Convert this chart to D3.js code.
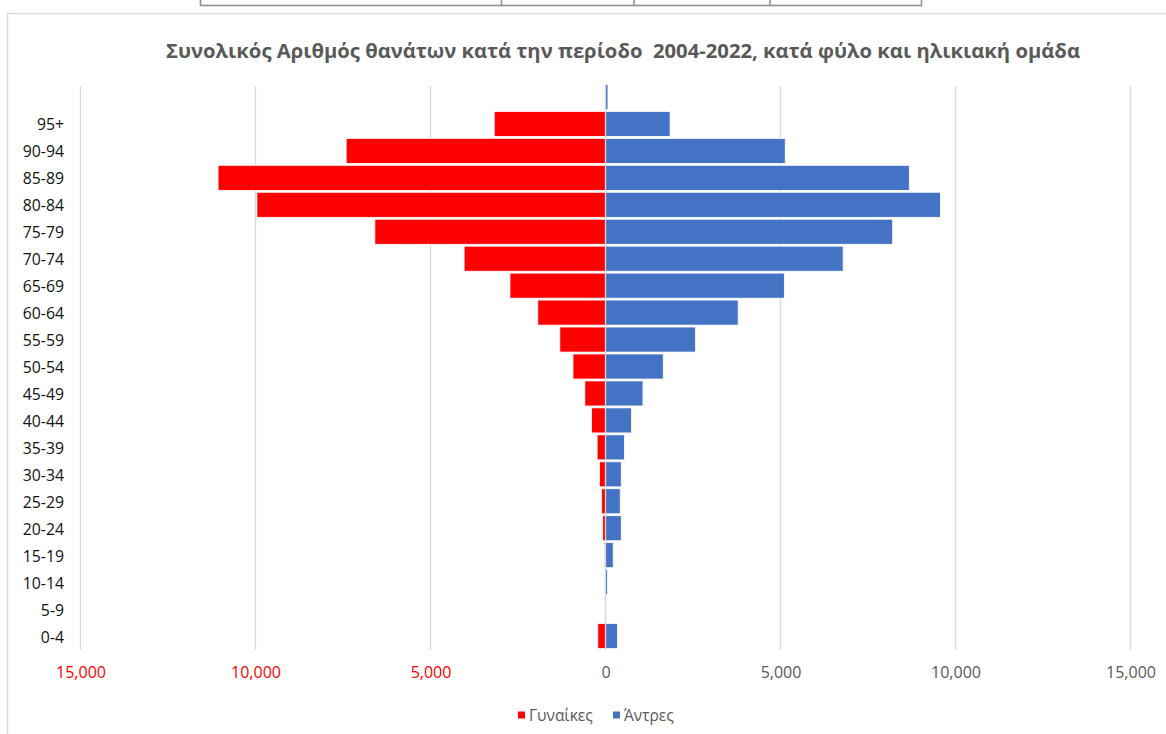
<!DOCTYPE html>
<html><head><meta charset="utf-8">
<script src="https://cdn.jsdelivr.net/npm/d3@7/dist/d3.min.js"></script>
<style>html,body{margin:0;padding:0;background:#fff;}svg{display:block;}</style>
</head><body>
<svg id="c" width="1166" height="734"></svg>
<script>
// Age groups, bottom to top (last one is unlabeled in the source)
const ageGroups = ["0-4","5-9","10-14","15-19","20-24","25-29","30-34","35-39","40-44","45-49","50-54","55-59","60-64","65-69","70-74","75-79","80-84","85-89","90-94","95+",""];
const women = [220,0,15,30,80,110,170,240,400,590,930,1305,1935,2730,4040,6590,9960,11070,7410,3180,0];
const men   = [340,0,60,220,450,420,450,540,740,1070,1650,2570,3790,5110,6790,8205,9570,8680,5135,1845,70];
const xTicks = [-15000,-10000,-5000,0,5000,10000,15000];
const title = "Συνολικός Αριθμός θανάτων κατά την περίοδο  2004-2022, κατά φύλο και ηλικιακή ομάδα";
const seriesNames = ["Γυναίκες","Άντρες"];
const seriesColors = ["#ff0000","#4472c4"];

const svg = d3.select("#c");
const font = "'Open Sans', 'DejaVu Sans', sans-serif";

// decorative table remnant at the top
const tbl = svg.append("g").attr("stroke","#8f8f8f").attr("stroke-width",1.6).attr("fill","none");
tbl.append("rect").attr("x",200.5).attr("y",-3).attr("width",721).attr("height",8.5);
[501.5,634,770].forEach(x=>tbl.append("line").attr("x1",x).attr("x2",x).attr("y1",-3).attr("y2",5.5));

// chart frame
svg.append("path").attr("d","M7.5,734 V13.5 H1166").attr("fill","none").attr("stroke","#d9d9d9").attr("stroke-width",1.5);

const x = d3.scaleLinear().domain([-15000,15000]).range([80.5,1130.5]);
const idx = d3.range(ageGroups.length);
const y = d3.scaleBand().domain(idx).range([649.5,83.5]).paddingInner(0.07).paddingOuter(0.035);

// gridlines
svg.append("g").selectAll("line").data(xTicks).join("line")
  .attr("x1",d=>x(d)).attr("x2",d=>x(d)).attr("y1",86).attr("y2",650)
  .attr("stroke","#d9d9d9").attr("stroke-width",1.3);

// bars
svg.append("g").selectAll("rect").data(idx).join("rect")
  .attr("x",i=>x(-women[i])).attr("width",i=>x(0)-x(-women[i]))
  .attr("y",i=>y(i)).attr("height",y.bandwidth())
  .attr("fill",seriesColors[0]).attr("stroke","#fff").attr("stroke-width",0.8);
svg.append("g").selectAll("rect").data(idx).join("rect")
  .attr("x",x(0)).attr("width",i=>x(men[i])-x(0))
  .attr("y",i=>y(i)).attr("height",y.bandwidth())
  .attr("fill",seriesColors[1]).attr("stroke","#fff").attr("stroke-width",0.8);

// zero axis line
svg.append("line").attr("x1",x(0)).attr("x2",x(0)).attr("y1",84).attr("y2",650)
  .attr("stroke","#d9d9d9").attr("stroke-width",1.3);

// y axis labels
const yAxis = d3.axisLeft(y).tickFormat(i=>ageGroups[i]).tickSize(0).tickPadding(0);
const gy = svg.append("g").attr("transform","translate(64,1.5)").call(yAxis);
gy.select(".domain").remove();
gy.selectAll("text").attr("font-family",font).attr("font-size",15.8).attr("fill","#111");

// x axis labels
const fmt = d3.format(",");
const xAxis = d3.axisBottom(x).tickValues(xTicks).tickFormat(d=>fmt(Math.abs(d))).tickSize(0).tickPadding(0);
const gx = svg.append("g").attr("transform","translate(0,667)").call(xAxis);
gx.select(".domain").remove();
gx.selectAll("text").attr("font-family",font).attr("font-size",16)
  .attr("fill",d=>d<0?"#ff0000":"#595959");

// title
svg.append("text").attr("x",623).attr("y",58).attr("text-anchor","middle")
  .attr("font-family",font).attr("font-weight","bold").attr("font-size",19)
  .style("white-space","pre")
  .attr("fill","#595959").attr("textLength",914).attr("lengthAdjust","spacingAndGlyphs")
  .text(title);

// legend
const legX = [518,613];
const lg = svg.append("g");
seriesNames.forEach((n,k)=>{
  lg.append("rect").attr("x",legX[k]).attr("y",711.5).attr("width",7).attr("height",7).attr("fill",seriesColors[k]);
  lg.append("text").attr("x",legX[k]+11).attr("y",720.5).attr("font-family",font).attr("font-size",15.5)
    .attr("fill","#595959").text(n);
});
</script>
</body></html>
